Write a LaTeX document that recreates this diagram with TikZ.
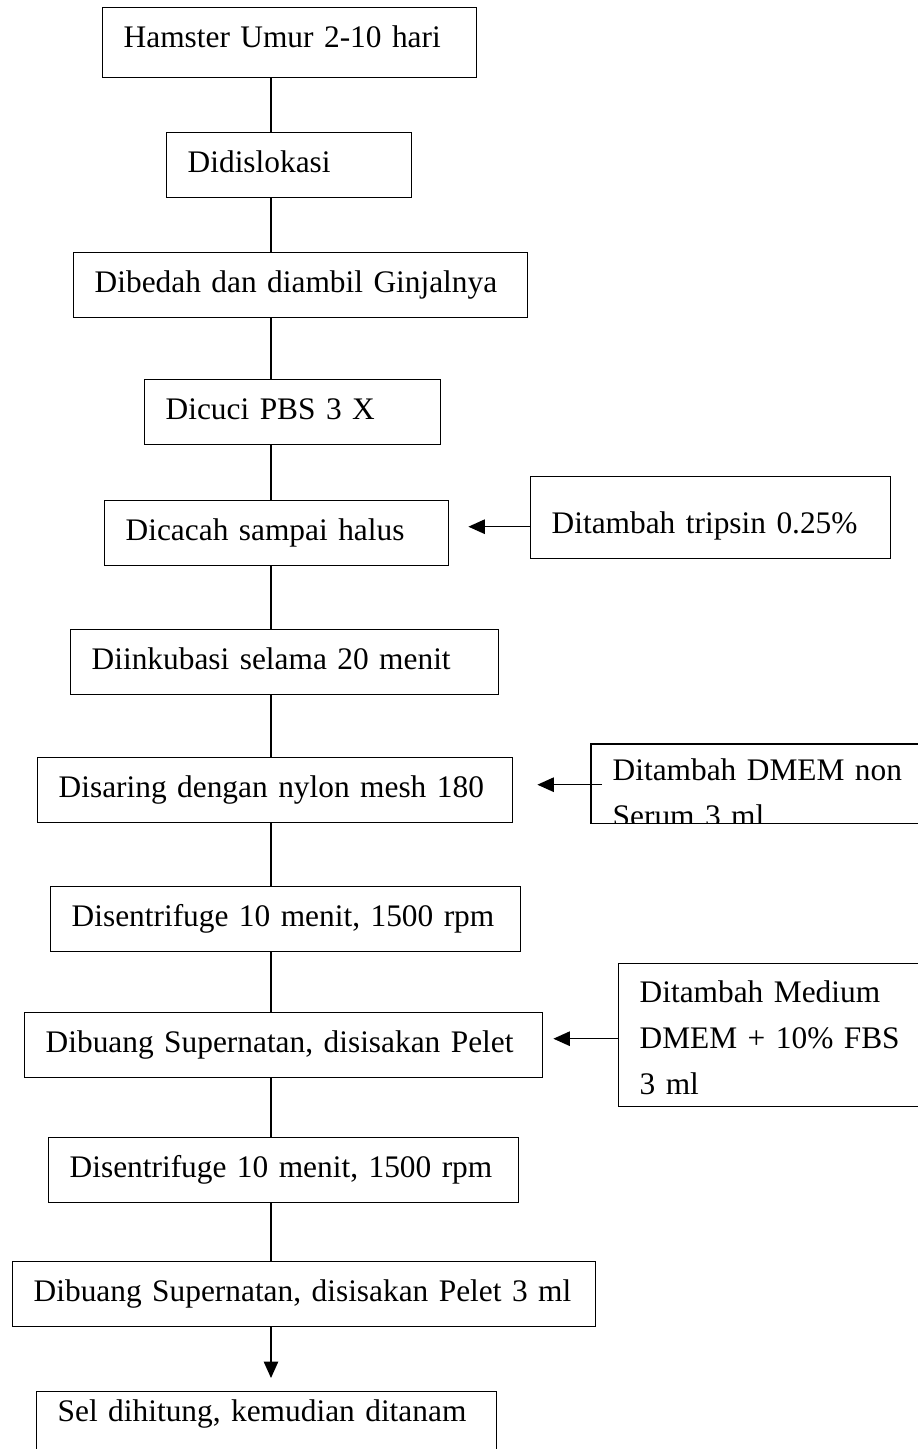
\documentclass[tikz,border=0pt]{standalone}
\usepackage{fontspec}
\setmainfont{Liberation Serif}
\usetikzlibrary{arrows.meta}

\begin{document}
\begin{tikzpicture}[x=0.4pt, y=-0.4pt, line width=0.55pt,
  >={Triangle[length=6.6pt,width=5.8pt]},
  every node/.style={font=\fontsize{12.55}{18.4}\selectfont},
  kotak/.style={draw, anchor=north west, align=left, inner xsep=8.4pt, inner ysep=3pt,
    text width=#1, text height=13pt, text depth=7pt}]
\clip (0,0) rectangle (918,1449);

\node[kotak=132.8pt, text depth=9pt] (hamster) at (102,7) {Hamster Umur 2-10 hari};
\node[kotak=81.2pt] (dislokasi) at (166,132) {Didislokasi};
\node[kotak=164.8pt] (bedah) at (73,252) {Dibedah dan diambil Ginjalnya};
\node[kotak=101.6pt] (cuci) at (144,379) {Dicuci PBS 3 X};
\node[kotak=120.8pt] (cacah) at (104,500) {Dicacah sampai halus};
\node[kotak=154.4pt] (inkubasi) at (70,629) {Diinkubasi selama 20 menit};
\node[kotak=173.2pt] (saring) at (37,757) {Disaring dengan nylon mesh 180};
\node[kotak=171.2pt] (sentri1) at (50,886) {Disentrifuge 10 menit, 1500 rpm};
\node[kotak=190.4pt] (buang1) at (24,1012) {Dibuang Supernatan, disisakan Pelet};
\node[kotak=171.2pt] (sentri2) at (48,1137) {Disentrifuge 10 menit, 1500 rpm};
\node[kotak=216.4pt] (buang2) at (12,1261) {Dibuang Supernatan, disisakan Pelet 3 ml};
\node[kotak=167.2pt, text height=9pt, text depth=13pt] (sel) at (36,1391) {Sel dihitung, kemudian ditanam};

\node[kotak=127.2pt, text height=19.8pt] (tripsin) at (530,476) {Ditambah tripsin 0.25\%};
\begin{scope}
\clip (591,744) rectangle (950,822);
\node[kotak=126.8pt, draw=none, text height=11.4pt, text depth=13.8pt] (dmem) at (591,744) {Ditambah DMEM non\\Serum 3 ml};
\end{scope}
\draw (dmem.north west) rectangle (dmem.south east);
\node[kotak=116pt, text height=12.6pt, text depth=38.6pt] (medium) at (618,963) {Ditambah Medium\\DMEM + 10\% FBS\\3 ml};

\coordinate (sumbu) at (271,0);
\foreach \a/\b in {hamster/dislokasi, dislokasi/bedah, bedah/cuci, cuci/cacah, cacah/inkubasi,
  inkubasi/saring, saring/sentri1, sentri1/buang1, buang1/sentri2, sentri2/buang2}
  \draw (\a.south -| sumbu) -- (\b.north -| sumbu);
\draw[->, shorten >=5.2pt] (buang2.south -| sumbu) -- (sel.north -| sumbu);

\draw[->, shorten >=7.6pt] ([yshift=-3.6pt]tripsin.west) -- ([yshift=-3.6pt]tripsin.west -| cacah.east);
\draw[->, shorten >=9.6pt] ([xshift=4.4pt,yshift=-0.4pt]dmem.west) -- ([yshift=-0.4pt]dmem.west -| saring.east);
\draw[->, shorten >=4pt] ([yshift=-1.4pt]medium.west) -- ([yshift=-1.4pt]medium.west -| buang1.east);
\end{tikzpicture}
\end{document}
